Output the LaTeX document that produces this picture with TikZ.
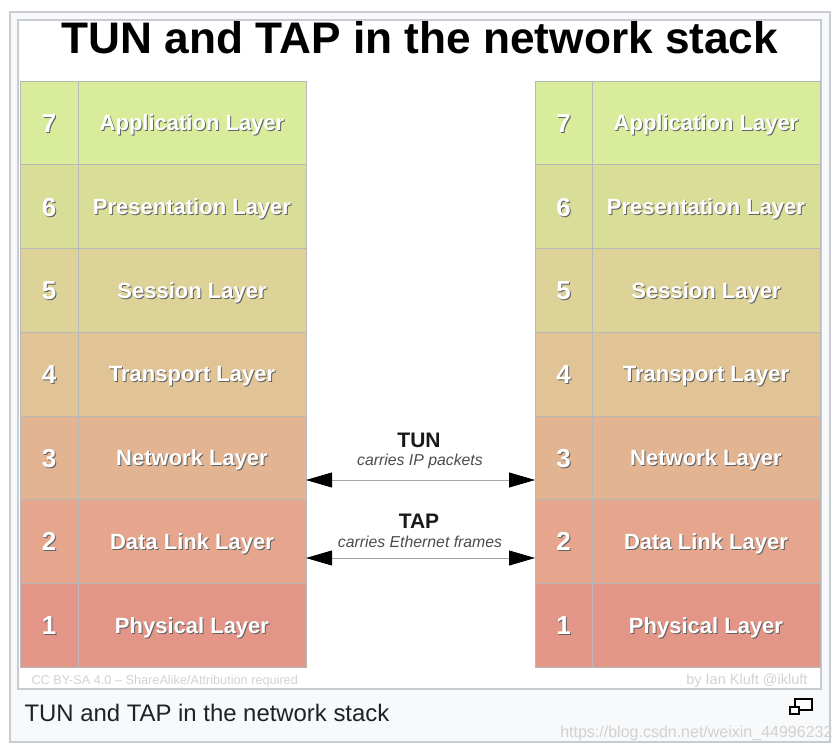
\documentclass[tikz,border=0pt]{standalone}
\usepackage{fontspec}
\setmainfont{Liberation Sans}
\usetikzlibrary{arrows.meta}
\definecolor{framec}{HTML}{C8CCD1}
\definecolor{capbg}{HTML}{F8F9FA}
\definecolor{cellline}{HTML}{B8B8B8}
\definecolor{shadowc}{HTML}{626262}
\definecolor{cvii}{HTML}{D8EC9B}
\definecolor{cvi}{HTML}{D8DD98}
\definecolor{cv}{HTML}{DDD398}
\definecolor{civ}{HTML}{E0C496}
\definecolor{ciii}{HTML}{E3B491}
\definecolor{cii}{HTML}{E6A68D}
\definecolor{ci}{HTML}{E39588}
\definecolor{credc}{HTML}{D2D2D2}
\definecolor{capc}{HTML}{202122}
\newcommand\shd[1]{\makebox[0pt][l]{\raisebox{-1pt}{\kern1pt\color{shadowc}#1}}#1}
\begin{document}
\begin{tikzpicture}[x=1pt,y=-1pt,
  cell/.style={draw=cellline, line width=0.6pt, inner sep=0pt, outer sep=0pt,
    minimum height=83.714pt, text=white, text height=15.8pt, text depth=0pt,
    font=\fontsize{22}{22}\selectfont\bfseries},
  numcell/.style={cell, minimum width=58pt, text height=19pt, font=\fontsize{26}{26}\selectfont\bfseries},
  namecell/.style={cell, minimum width=228pt},
  link/.style={draw=gray!70, line width=0.8pt,
    {Triangle[length=26pt,width=15pt,color=black]}-{Triangle[length=26pt,width=15pt,color=black]}},
  lbl/.style={font=\fontsize{21}{21}\selectfont\bfseries, text=black!90},
  sub/.style={font=\fontsize{15.8}{15.8}\selectfont\itshape, text=black!70},
  cred/.style={text=credc}]
\useasboundingbox (0,0) rectangle (840,752);
\fill[white] (0,0) rectangle (840,752);
\draw[framec, line width=2pt, fill=capbg] (10,12) rectangle (830,742);
\draw[framec, line width=1.5pt, fill=white] (18,20) rectangle (821,689);
\node[font=\fontsize{44.2}{44.2}\selectfont\bfseries] (title) at (420,38) {TUN and TAP in the network stack};
\foreach \n/\nm/\col [count=\i] in {7/Application Layer/cvii,6/Presentation Layer/cvi,5/Session Layer/cv,4/Transport Layer/civ,3/Network Layer/ciii,2/Data Link Layer/cii,1/Physical Layer/ci}{
  \pgfmathsetmacro\yy{81+(\i-0.5)*83.714}
  \node[numcell, fill=\col] (Ln\n) at (49,\yy) {\shd{\n}};
  \node[namecell, fill=\col] (Lt\n) at (192,\yy) {\shd{\nm}};
  \node[numcell, fill=\col, minimum width=57pt] (Rn\n) at (563.5,\yy) {\shd{\n}};
  \node[namecell, fill=\col] (Rt\n) at (706,\yy) {\shd{\nm}};
}
\coordinate (tunL) at (306,480);
\coordinate (tunR) at (535,480);
\coordinate (tapL) at (306,558);
\coordinate (tapR) at (535,558);
\draw[link] (tunL) -- (tunR);
\draw[link] (tapL) -- (tapR);
\node[lbl] (tun) at (419,440) {TUN};
\node[sub] (tunsub) at (420,461) {carries IP packets};
\node[lbl] (tap) at (419,521) {TAP};
\node[sub] (tapsub) at (420,542) {carries Ethernet frames};
\node[cred, anchor=west, font=\fontsize{12.7}{12.7}\selectfont] (cc) at (28,681) {CC BY-SA 4.0 – ShareAlike/Attribution required};
\node[cred, anchor=east, font=\fontsize{14.5}{14.5}\selectfont] (by) at (811,681) {by Ian Kluft @ikluft};
\node[anchor=west, font=\fontsize{23.9}{23.9}\selectfont, text=capc] (caption) at (21,713) {TUN and TAP in the network stack};
\draw[black, line width=1.2pt, fill=white] (795,699) rectangle (812,710);
\draw[black, line width=1.2pt, fill=white] (790,707) rectangle (799,714);
\node[anchor=east, font=\fontsize{16}{16}\selectfont, text=black!18] (wm) at (836,733) {https://blog.csdn.net/weixin\_44996232};
\end{tikzpicture}
\end{document}
